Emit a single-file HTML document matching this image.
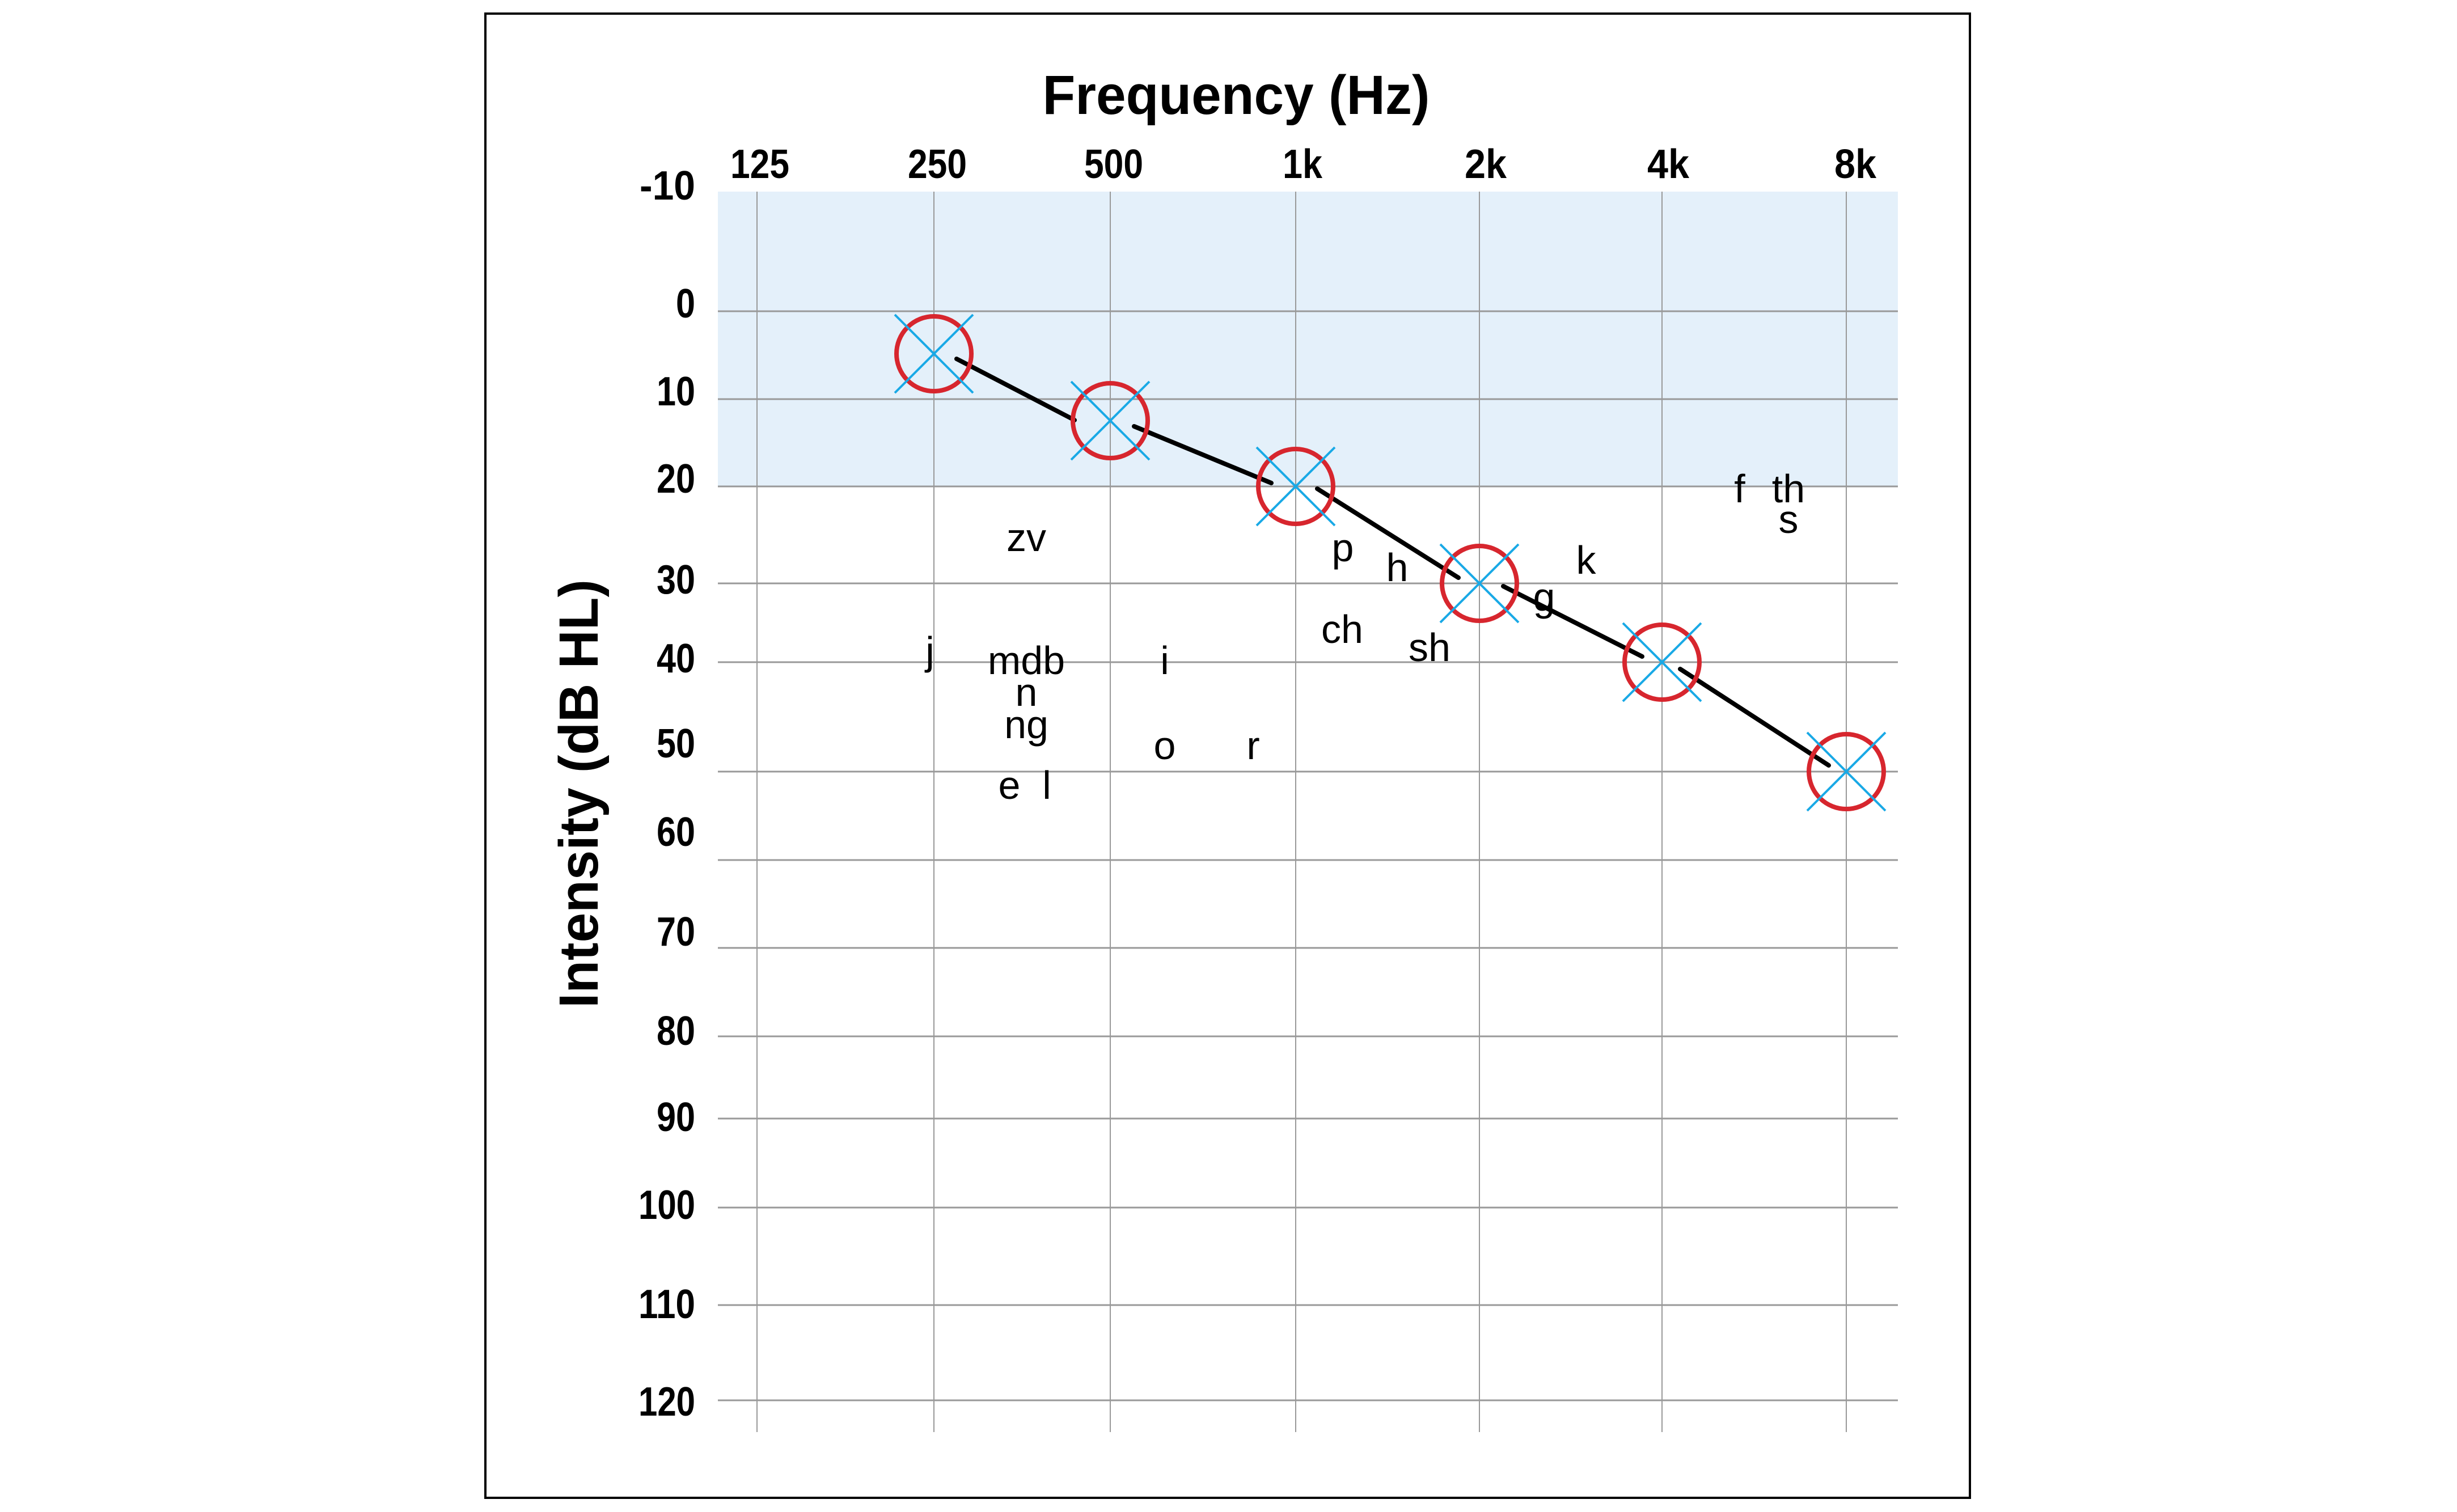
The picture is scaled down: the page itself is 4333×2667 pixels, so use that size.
<!DOCTYPE html>
<html><head><meta charset="utf-8"><style>html,body{margin:0;padding:0;background:#fff}svg{display:block}</style></head>
<body>
<svg width="4333" height="2667" viewBox="0 0 4333 2667" xmlns="http://www.w3.org/2000/svg" font-family="Liberation Sans, sans-serif">
<rect x="0" y="0" width="4333" height="2667" fill="#fff"/>
<rect x="856" y="24" width="2618" height="2618" fill="none" stroke="#000" stroke-width="4"/>
<rect x="1266" y="338" width="2081" height="521" fill="#e4f0fa"/>
<g stroke="#999" stroke-width="2">
<line x1="1335" y1="338" x2="1335" y2="2526"/>
<line x1="1647" y1="338" x2="1647" y2="2526"/>
<line x1="1958" y1="338" x2="1958" y2="2526"/>
<line x1="2285" y1="338" x2="2285" y2="2526"/>
<line x1="2609" y1="338" x2="2609" y2="2526"/>
<line x1="2931" y1="338" x2="2931" y2="2526"/>
<line x1="3256" y1="338" x2="3256" y2="2526"/>
</g>
<g stroke="#999" stroke-width="3">
<line x1="1266" y1="549" x2="3347" y2="549"/>
<line x1="1266" y1="704" x2="3347" y2="704"/>
<line x1="1266" y1="858" x2="3347" y2="858"/>
<line x1="1266" y1="1029" x2="3347" y2="1029"/>
<line x1="1266" y1="1168" x2="3347" y2="1168"/>
<line x1="1266" y1="1361" x2="3347" y2="1361"/>
<line x1="1266" y1="1517" x2="3347" y2="1517"/>
<line x1="1266" y1="1672" x2="3347" y2="1672"/>
<line x1="1266" y1="1828" x2="3347" y2="1828"/>
<line x1="1266" y1="1973" x2="3347" y2="1973"/>
<line x1="1266" y1="2130" x2="3347" y2="2130"/>
<line x1="1266" y1="2302" x2="3347" y2="2302"/>
<line x1="1266" y1="2470" x2="3347" y2="2470"/>
</g>
<text x="2180" y="201" font-size="97" font-weight="bold" text-anchor="middle" textLength="683" lengthAdjust="spacingAndGlyphs">Frequency (Hz)</text>
<text transform="translate(1054,1400) rotate(-90)" font-size="97" font-weight="bold" text-anchor="middle" textLength="756" lengthAdjust="spacingAndGlyphs">Intensity (dB HL)</text>
<g font-size="72" text-anchor="middle" font-weight="bold">
<text x="1340" y="314" textLength="104" lengthAdjust="spacingAndGlyphs">125</text>
<text x="1653" y="314" textLength="104" lengthAdjust="spacingAndGlyphs">250</text>
<text x="1964" y="314" textLength="104" lengthAdjust="spacingAndGlyphs">500</text>
<text x="2297" y="314" textLength="70" lengthAdjust="spacingAndGlyphs">1k</text>
<text x="2620" y="314" textLength="74" lengthAdjust="spacingAndGlyphs">2k</text>
<text x="2942" y="314" textLength="74" lengthAdjust="spacingAndGlyphs">4k</text>
<text x="3272" y="314" textLength="74" lengthAdjust="spacingAndGlyphs">8k</text>
</g>
<g font-size="72" text-anchor="end" font-weight="bold">
<text x="1226" y="352" textLength="98" lengthAdjust="spacingAndGlyphs">-10</text>
<text x="1226" y="560" textLength="34" lengthAdjust="spacingAndGlyphs">0</text>
<text x="1226" y="715" textLength="68" lengthAdjust="spacingAndGlyphs">10</text>
<text x="1226" y="869" textLength="68" lengthAdjust="spacingAndGlyphs">20</text>
<text x="1226" y="1047" textLength="68" lengthAdjust="spacingAndGlyphs">30</text>
<text x="1226" y="1186" textLength="68" lengthAdjust="spacingAndGlyphs">40</text>
<text x="1226" y="1336" textLength="68" lengthAdjust="spacingAndGlyphs">50</text>
<text x="1226" y="1492" textLength="68" lengthAdjust="spacingAndGlyphs">60</text>
<text x="1226" y="1668" textLength="68" lengthAdjust="spacingAndGlyphs">70</text>
<text x="1226" y="1843" textLength="68" lengthAdjust="spacingAndGlyphs">80</text>
<text x="1226" y="1995" textLength="68" lengthAdjust="spacingAndGlyphs">90</text>
<text x="1226" y="2150" textLength="100" lengthAdjust="spacingAndGlyphs">100</text>
<text x="1226" y="2325" textLength="100" lengthAdjust="spacingAndGlyphs">110</text>
<text x="1226" y="2497" textLength="100" lengthAdjust="spacingAndGlyphs">120</text>
</g>
<g font-size="70" text-anchor="middle">
<text x="1810" y="972">zv</text>
<text x="1640" y="1172">j</text>
<text x="1810" y="1189">mdb</text>
<text x="1810" y="1245">n</text>
<text x="1810" y="1302">ng</text>
<text x="1780" y="1409">e</text>
<text x="1846" y="1409">l</text>
<text x="2054" y="1189">i</text>
<text x="2054" y="1339">o</text>
<text x="2210" y="1339">r</text>
<text x="2368" y="990">p</text>
<text x="2464" y="1025">h</text>
<text x="2367" y="1134">ch</text>
<text x="2521" y="1166">sh</text>
<text x="2797" y="1012">k</text>
<text x="2723" y="1077">g</text>
<text x="3068" y="886">f</text>
<text x="3154" y="886">th</text>
<text x="3154" y="940">s</text>
</g>
<g stroke="#000" stroke-width="8" stroke-linecap="round">
<line x1="1687" y1="633" x2="1895" y2="741"/>
<line x1="2000" y1="752" x2="2242" y2="852"/>
<line x1="2323" y1="862" x2="2572" y2="1019"/>
<line x1="2651" y1="1034" x2="2896" y2="1158"/>
<line x1="2963" y1="1180" x2="3225" y2="1350"/>
</g>
<g fill="none" stroke="#d7262e" stroke-width="8">
<circle cx="1647" cy="624" r="66"/>
<circle cx="1958" cy="742" r="66"/>
<circle cx="2285" cy="858" r="66"/>
<circle cx="2609" cy="1029" r="66"/>
<circle cx="2931" cy="1168" r="66"/>
<circle cx="3256" cy="1361" r="66"/>
</g>
<g stroke="#19a9e6" stroke-width="4">
<path d="M1578 555 L1716 693 M1716 555 L1578 693"/>
<path d="M1889 673 L2027 811 M2027 673 L1889 811"/>
<path d="M2216 789 L2354 927 M2354 789 L2216 927"/>
<path d="M2540 960 L2678 1098 M2678 960 L2540 1098"/>
<path d="M2862 1099 L3000 1237 M3000 1099 L2862 1237"/>
<path d="M3187 1292 L3325 1430 M3325 1292 L3187 1430"/>
</g>
</svg>
</body></html>
